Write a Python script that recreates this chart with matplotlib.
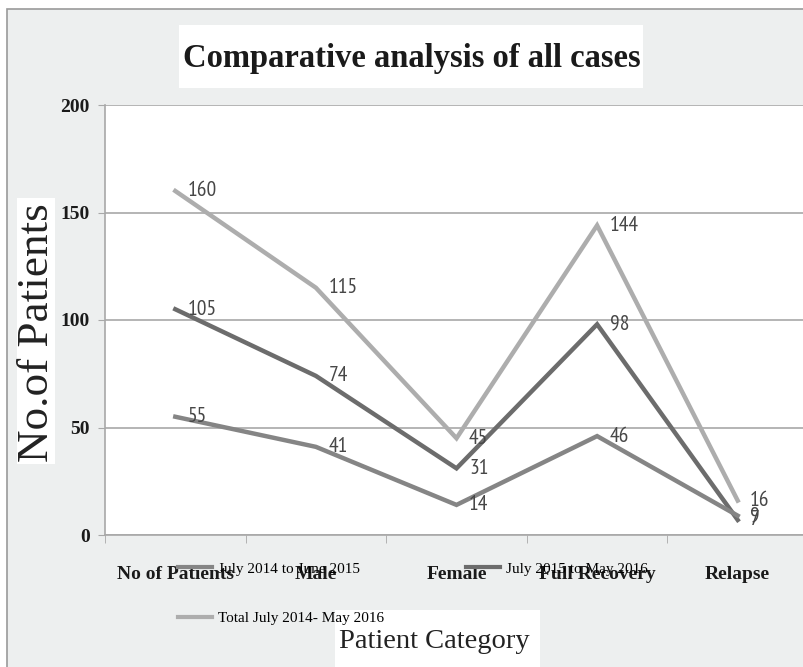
import matplotlib
matplotlib.use("Agg")
import matplotlib.pyplot as plt
from matplotlib.patches import Rectangle
from matplotlib.lines import Line2D
import numpy as np

categories = ["No of Patients", "Male", "Female", "Full Recovery", "Relapse"]
period_1 = [55, 41, 14, 46, 9]     # July 2014 to June 2015
period_2 = [105, 74, 31, 98, 7]    # July 2015 to May 2016
total = [160, 115, 45, 144, 16]    # Total July 2014 - May 2016
series_labels = ["July 2014 to June 2015", "July 2015 to May 2016", "Total July 2014- May 2016"]
y_ticks = [0, 50, 100, 150, 200]

W, H = 804, 667
SERIF = "Liberation Serif"
GRID = "#a8a8a8"


def fx(px):
    return px / W


def fy(py):
    return 1 - py / H


fig = plt.figure(figsize=(W / 100, H / 100), dpi=100, facecolor="white")

# grey panel behind everything, with a thin border
fig.patches.append(Rectangle((fx(7), -0.1), 1.1, fy(9) + 0.1, transform=fig.transFigure,
                             facecolor="#edefef", edgecolor="#9a9a9a", lw=1.2, zorder=-2))

ax = fig.add_axes([fx(105), fy(535), fx(808) - fx(105), fy(105) - fy(535)])
ax.set_facecolor("white")

x = np.arange(len(categories))
colors = ["#858585", "#6c6c6c", "#adadad"]
for vals, col in zip([total, period_2, period_1], [colors[2], colors[1], colors[0]]):
    ax.plot(x, vals, color=col, lw=3.2, solid_joinstyle="miter", zorder=3)
    for xi, v in zip(x, vals):
        ax.annotate(str(v), (xi, v), xytext=(9, 0), textcoords="offset points",
                    ha="left", va="center", fontsize=15.5, family="PT Sans Narrow",
                    color="#474747", zorder=4)

ax.set_xlim(-0.5, 4.5)
ax.set_ylim(0, 200)
ax.set_yticks(y_ticks)
ax.set_yticklabels([str(v) for v in y_ticks], family=SERIF, fontweight="bold", fontsize=14)
ax.set_xticks(x)
ax.set_xticklabels(categories, family=SERIF, fontweight="bold", fontsize=14)
ax.set_xticks(np.arange(-0.5, 5, 1), minor=True)
ax.tick_params(axis="x", which="major", length=0, pad=22, colors="#1a1a1a")
ax.tick_params(axis="x", which="minor", length=6, color=GRID)
ax.tick_params(axis="y", length=5, pad=6, color=GRID, labelcolor="#1a1a1a")
ax.grid(axis="y", color=GRID, lw=1.2)
ax.set_axisbelow(True)
for side in ["top", "right"]:
    ax.spines[side].set_visible(False)
for side in ["left", "bottom"]:
    ax.spines[side].set_color(GRID)
    ax.spines[side].set_linewidth(1.2)

# title on its own white panel
fig.patches.append(Rectangle((fx(179), fy(88)), fx(643) - fx(179), fy(25) - fy(88),
                             transform=fig.transFigure, facecolor="white", edgecolor="none", zorder=1))
fig.text(fx(412), fy(58), "Comparative analysis of all cases", ha="center", va="center",
         family=SERIF, fontweight="bold", fontsize=23.5, color="#1a1a1a", zorder=2)

# y axis title
fig.patches.append(Rectangle((fx(17), fy(464)), fx(55) - fx(17), fy(198) - fy(464),
                             transform=fig.transFigure, facecolor="white", edgecolor="none", zorder=1))
fig.text(fx(37), fy(333), "No.of Patients", rotation=90, ha="center", va="center",
         family=SERIF, fontsize=32.5, color="#222222", zorder=2)

# x axis title
fig.patches.append(Rectangle((fx(335), -0.1), fx(540) - fx(335), fy(610) + 0.1,
                             transform=fig.transFigure, facecolor="white", edgecolor="none", zorder=1))
fig.text(fx(434), fy(642), "Patient Category", ha="center", va="center",
         family=SERIF, fontsize=20.5, color="#222222", zorder=2)

handles = [Line2D([], [], color=c, lw=3) for c in colors]
# order so that the first row holds the two periods and the total sits below
leg = fig.legend([handles[0], handles[2], handles[1]],
                 [series_labels[0], series_labels[2], series_labels[1]],
                 ncol=2, loc="upper left", bbox_to_anchor=(fx(178), fy(562)),
                 frameon=False, prop={"family": SERIF, "size": 11},
                 handlelength=2.2, handletextpad=0.4, columnspacing=5.4,
                 labelspacing=2.35, borderpad=0, borderaxespad=0)
leg.set_zorder(5)

fig.savefig("out.png", dpi=100, facecolor=fig.get_facecolor())
